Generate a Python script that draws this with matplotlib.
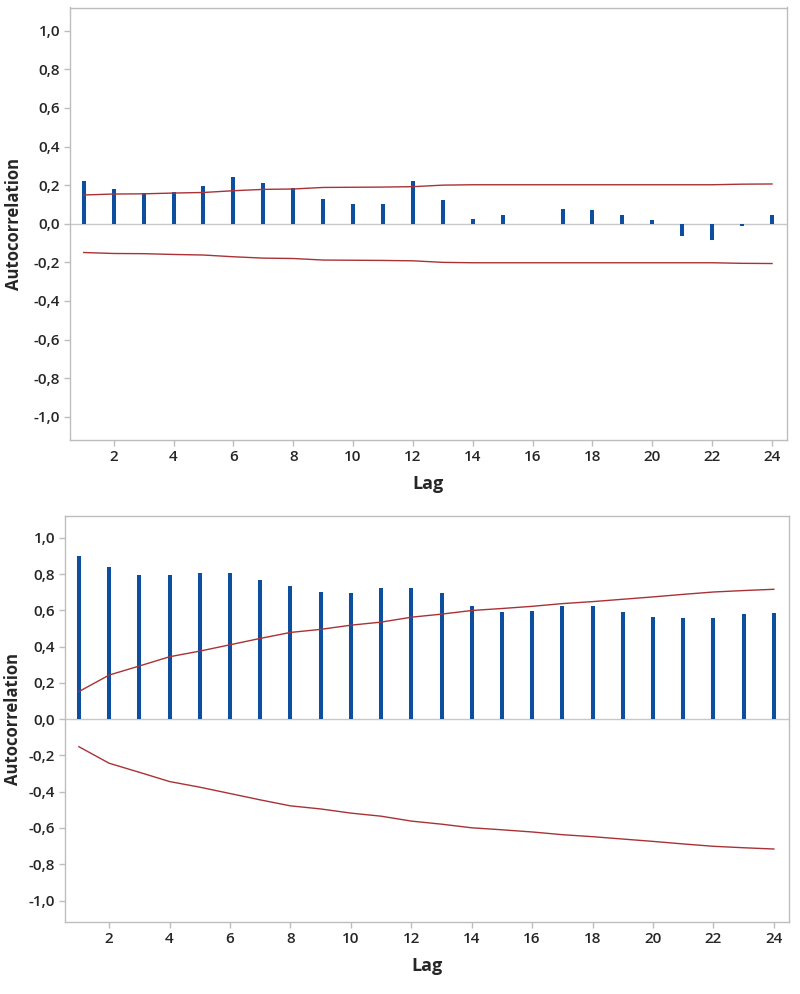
import numpy as np
import matplotlib
matplotlib.use('Agg')
from matplotlib import pyplot as plt
from matplotlib.ticker import FuncFormatter

lags = list(range(1, 25))

# top panel: autocorrelation and upper significance limit
acf_top = [0.22, 0.18, 0.16, 0.167, 0.193, 0.24, 0.212, 0.187, 0.128, 0.102, 0.10, 0.22,
           0.123, 0.025, 0.045, 0.0, 0.076, 0.071, 0.045, 0.019, -0.066, -0.085, -0.012, 0.045]
limit_top = [0.149, 0.154, 0.155, 0.159, 0.162, 0.171, 0.178, 0.180, 0.188, 0.189, 0.190, 0.192,
             0.200, 0.202, 0.202, 0.202, 0.202, 0.202, 0.202, 0.202, 0.202, 0.202, 0.205, 0.206]

# bottom panel
acf_bottom = [0.897, 0.838, 0.793, 0.793, 0.806, 0.806, 0.767, 0.734, 0.703, 0.696, 0.721, 0.721,
              0.696, 0.622, 0.591, 0.599, 0.622, 0.622, 0.591, 0.564, 0.558, 0.558, 0.579, 0.584]
limit_bottom = [0.152, 0.243, 0.293, 0.344, 0.375, 0.410, 0.445, 0.478, 0.495, 0.518, 0.535, 0.562,
                0.579, 0.599, 0.610, 0.622, 0.637, 0.648, 0.661, 0.674, 0.688, 0.701, 0.709, 0.716]

yticks = np.round(np.arange(-1.0, 1.01, 0.2), 1)
xticks = list(range(2, 25, 2))

bar_color = '#0d4f9e'
limit_color = '#a83236'
frame_color = '#bdbdbd'
text_color = '#262626'

plt.rcParams['font.family'] = ['Open Sans', 'DejaVu Sans']


def comma_fmt(v, pos):
    return ('%.1f' % v).replace('.', ',').replace('-0,0', '0,0')


def draw_acf(ax, acf, limit):
    lim = np.array(limit)
    ax.axhline(0, color='#c8c8c8', lw=1.0, zorder=1)
    ax.vlines(lags, 0, acf, color=bar_color, lw=2.9, zorder=3)
    ax.plot(lags, lim, color=limit_color, lw=1.0, zorder=4)
    ax.plot(lags, -lim, color=limit_color, lw=1.0, zorder=4)
    ax.set_xlim(0.54, 24.5)
    ax.set_ylim(-1.12, 1.12)
    ax.set_yticks(yticks)
    ax.set_xticks(xticks)
    ax.yaxis.set_major_formatter(FuncFormatter(comma_fmt))
    for s in ax.spines.values():
        s.set_color(frame_color)
        s.set_linewidth(1.0)
    ax.tick_params(direction='out', length=4, width=1, color=frame_color,
                   labelcolor=text_color, labelsize=11, pad=3)
    for lbl in ax.get_xticklabels() + ax.get_yticklabels():
        lbl.set_fontweight('semibold')
    ax.set_xlabel('Lag', fontsize=13, fontweight='bold', color=text_color, labelpad=8)
    ax.set_ylabel('Autocorrelation', fontsize=12, fontweight='bold', color=text_color)


fig = plt.figure(figsize=(8, 9.94), dpi=100)
ax1 = fig.add_axes([70 / 800, 1 - 440 / 994, (787 - 70) / 800, (440 - 7.5) / 994])
ax2 = fig.add_axes([65 / 800, 1 - 922.3 / 994, (789 - 65) / 800, (922.3 - 516) / 994])

draw_acf(ax1, acf_top, limit_top)
draw_acf(ax2, acf_bottom, limit_bottom)
ax1.yaxis.set_label_coords(-0.066, 0.5)
ax2.yaxis.set_label_coords(-0.059, 0.5)

fig.savefig('out.png', dpi=100)
